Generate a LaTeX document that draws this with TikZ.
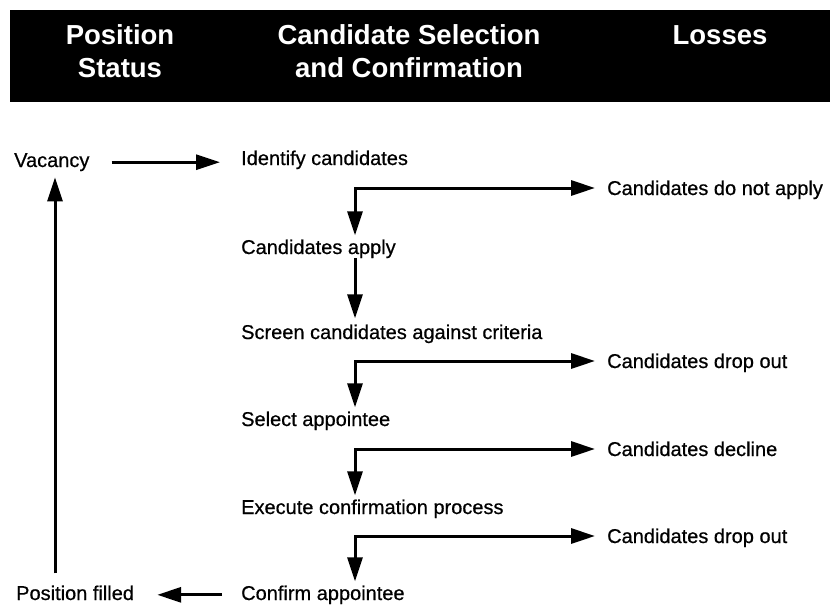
\documentclass[tikz,border=0pt]{standalone}
\usepackage{fontspec}
\setmainfont{Liberation Sans}
\newfontfamily\bodyfont{Liberation Sans}[FakeBold=0.6]
\usetikzlibrary{arrows.meta}
\begin{document}
\begin{tikzpicture}[x=1pt,y=-1pt,
  txt/.style={anchor=base west, inner sep=0pt, font=\bodyfont\fontsize{20}{24}\selectfont},
  hdr/.style={text=white, inner sep=0pt, align=center, font=\fontsize{27.5}{33}\selectfont\bfseries},
  arr/.style={line width=3pt, -{Triangle[length=24pt,width=15pt]}},
  dbl/.style={line width=3pt, {Triangle[length=24pt,width=15pt]}-{Triangle[length=24pt,width=15pt]}}]
\useasboundingbox (0,0) rectangle (830,605);
% header band
\fill[black] (10,10) rectangle (830,102);
\node[hdr] (hpos) at (120,51.5) {Position\\Status};
\node[hdr] (hcand) at (409,51.5) {Candidate Selection\\and Confirmation};
\node[hdr] (hloss) at (720,35) {Losses};

% left column
\node[txt] (vacancy) at (14,167) {Vacancy};
\node[txt] (filled) at (16,600) {Position filled};

% main column
\node[txt] (ident)   at (241,165) {Identify candidates};
\node[txt] (apply)   at (241,254) {Candidates apply};
\node[txt] (screen)  at (241,339) {Screen candidates against criteria};
\node[txt] (select)  at (241,426) {Select appointee};
\node[txt] (execute) at (241,514) {Execute confirmation process};
\node[txt] (confirm) at (241,600) {Confirm appointee};

% losses
\node[txt] (l1) at (607,195) {Candidates do not apply};
\node[txt] (l2) at (607,368) {Candidates drop out};
\node[txt] (l3) at (607,456) {Candidates decline};
\node[txt] (l4) at (607,543) {Candidates drop out};

% reference columns
\coordinate (lx) at (55,0);
\coordinate (c1) at (355,188);
\coordinate (c2) at (355,361);
\coordinate (c3) at (355,449);
\coordinate (c4) at (355,536);

% connectors
\draw[arr, shorten <=22pt, shorten >=21pt] (vacancy.east) -- (vacancy.east -| ident.west);
\draw[arr, shorten <=19pt, shorten >=23pt] (confirm.west) -- (confirm.west -| filled.east);
\draw[arr, shorten <=12pt, shorten >=6pt] (lx |- filled.north) -- (lx |- vacancy.south);
\draw[arr, shorten >=6pt] (c1 |- apply.south) -- (c1 |- screen.north);

\draw[dbl, shorten <=12pt, shorten >=4pt] (c1 -| l1.west) -- (c1) -- (c1 |- apply.north);
\draw[dbl, shorten <=12pt, shorten >=4pt] (c2 -| l2.west) -- (c2) -- (c2 |- select.north);
\draw[dbl, shorten <=12pt, shorten >=4pt] (c3 -| l3.west) -- (c3) -- (c3 |- execute.north);
\draw[dbl, shorten <=12pt, shorten >=4pt] (c4 -| l4.west) -- (c4) -- (c4 |- confirm.north);
\end{tikzpicture}
\end{document}
